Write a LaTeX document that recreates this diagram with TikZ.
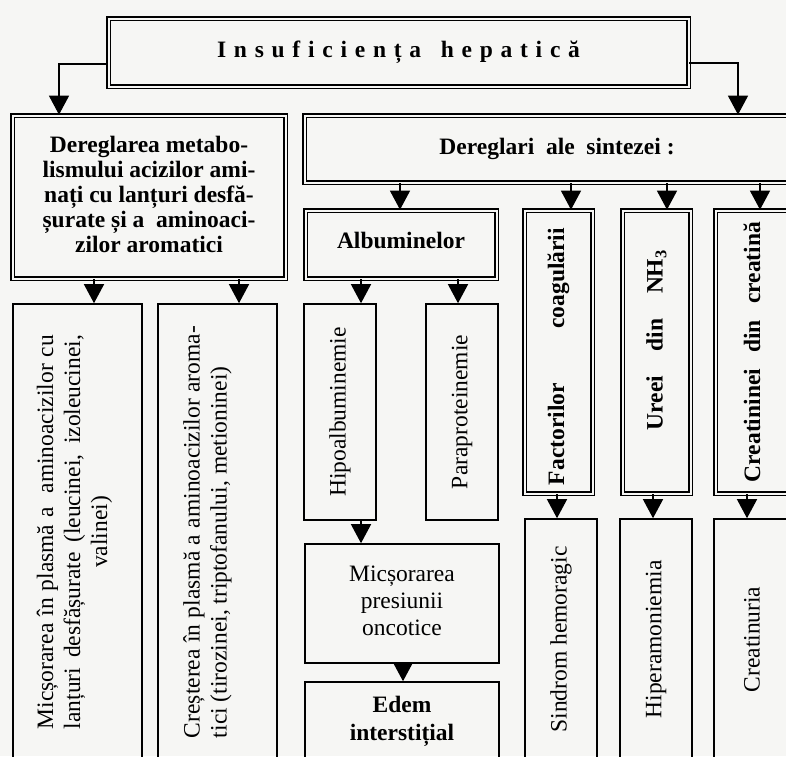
\documentclass[tikz,border=0pt]{standalone}
\usepackage{fontspec}
\setmainfont{Liberation Serif}
\newfontfamily\titlefont{Liberation Serif}[LetterSpace=33]
\usetikzlibrary{arrows.meta}
\definecolor{paper}{RGB}{246,246,244}
\tikzset{
  dbox/.style={draw, line width=1.7pt, double=paper, double distance=2pt, inner sep=0pt, align=center},
  sbox/.style={draw, line width=1.6pt, inner sep=0pt, align=center},
  arr/.style={draw, line width=1.4pt, -{Triangle[width=20pt,length=19pt]}},
  txt/.style={font=\fontsize{23.5}{27}\selectfont},
  btxt/.style={font=\fontsize{23.5}{25}\selectfont\bfseries},
}
\begin{document}
\begin{tikzpicture}[x=1pt,y=-1pt]
\useasboundingbox (0,0) rectangle (786,756);
\fill[paper] (0,0) rectangle (786,756);
\clip (0,0) rectangle (786,756);

% top level
\node[dbox, minimum width=580pt, minimum height=68pt] (title) at (398.5,52.5)
  {\titlefont\fontsize{23.5}{26}\selectfont\bfseries Insuficiența\hspace{6pt} hepatică};
\node[dbox, btxt, minimum width=273pt, minimum height=163pt] (dereg) at (149,197)
  {\raisebox{8pt}{\begin{tabular}{@{}c@{}}Dereglarea metabo-\\lismului acizilor ami-\\nați cu lanțuri desfă-\\șurate și a\ \ aminoaci-\\zilor aromatici\end{tabular}}};
\node[dbox, btxt, minimum width=505pt, minimum height=67pt] (sint) at (557,149)
  {Dereglari\ \ ale\ \ sintezei :};

% second level (right)
\node[dbox, btxt, minimum width=191pt, minimum height=68pt] (alb) at (401,244.5) {\raisebox{8pt}{Albuminelor}};
\node[dbox, btxt, minimum width=68pt, minimum height=283pt] (fact) at (558.5,352)
  {\rotatebox{90}{\makebox[257pt][s]{Factorilor coagulării}\hspace{9pt}}};
\node[dbox, btxt, minimum width=68pt, minimum height=283pt] (ureei) at (656.5,352)
  {\rotatebox{90}{\hspace{24pt}\makebox[180pt][s]{Ureei din NH\textsubscript{3}}}};
\node[dbox, btxt, minimum width=73pt, minimum height=283pt] (creat) at (752,352)
  {\rotatebox{90}{\makebox[260pt][s]{Creatininei din creatină}}};

% albumin branch
\node[sbox, txt, minimum width=72pt, minimum height=216pt] (hipo) at (340,412) {\rotatebox{90}{Hipoalbuminemie}};
\node[sbox, txt, minimum width=72pt, minimum height=216pt] (para) at (462,412) {\rotatebox{90}{Paraproteinemie}};
\node[sbox, txt, minimum width=194pt, minimum height=119pt] (pres) at (402,603.5)
  {\raisebox{4pt}{\begin{tabular}{@{}c@{}}Micșorarea\\presiunii\\oncotice\end{tabular}}};
\node[sbox, font=\fontsize{23.5}{28}\selectfont\bfseries, minimum width=194pt, minimum height=78pt] (edem) at (402,721) {Edem\\interstițial};

% lower right
\node[sbox, txt, minimum width=72pt, minimum height=241pt] (sind) at (561,639.5) {\rotatebox{90}{Sindrom hemoragic}};
\node[sbox, txt, minimum width=72pt, minimum height=241pt] (hiper) at (656,639.5) {\rotatebox{90}{Hiperamoniemia}};
\node[sbox, txt, minimum width=76pt, minimum height=241pt] (crtu) at (752,639.5) {\rotatebox{90}{Creatinuria}};

% lower left
\node[sbox, txt, minimum width=129pt, minimum height=456pt] (micp) at (77.5,532)
  {\rotatebox{90}{\raisebox{0pt}[\height][\dimexpr\depth+6pt\relax]{\parbox{394pt}{\centering\makebox[394pt][s]{Micșorarea în plasmă a\ \ aminoacizilor cu}\\\makebox[394pt][s]{lanțuri desfășurate (leucinei, izoleucinei,}\\valinei)}}}};
\node[sbox, txt, minimum width=119pt, minimum height=456pt] (cres) at (217.5,532)
  {\rotatebox{90}{\raisebox{0pt}[\height][\dimexpr\depth+20pt\relax]{\parbox{412pt}{\makebox[412pt][s]{Creșterea în plasmă a aminoacizilor aroma-}\\tici (tirozinei, triptofanului, metioninei)}}}};

% connectors
\draw[arr] ([yshift=-11.5pt]title.west) -| ([xshift=-90pt]dereg.north);
\draw[arr] ([yshift=-10.5pt]title.east) -| ([xshift=181pt]sint.north);

\draw[arr] (dereg.south -| 94,0) -- (micp.north -| 94,0);
\draw[arr] (dereg.south -| 239,0) -- (cres.north -| 239,0);

\draw[arr] (sint.south -| 400,0) -- (alb.north -| 400,0);
\draw[arr] (sint.south -| 571,0) -- (fact.north -| 571,0);
\draw[arr] (sint.south -| 667,0) -- (ureei.north -| 667,0);
\draw[arr] (sint.south -| 760,0) -- (creat.north -| 760,0);

\draw[arr] (alb.south -| 361,0) -- (hipo.north -| 361,0);
\draw[arr] (alb.south -| 458,0) -- (para.north -| 458,0);
\draw[arr] (hipo.south -| 361,0) -- (pres.north -| 361,0);
\draw[arr] (pres.south -| 403,0) -- (edem.north -| 403,0);

\draw[arr] (fact.south -| 557,0) -- (sind.north -| 557,0);
\draw[arr] (ureei.south -| 653,0) -- (hiper.north -| 653,0);
\draw[arr] (creat.south -| 747,0) -- (crtu.north -| 747,0);
\end{tikzpicture}
\end{document}
